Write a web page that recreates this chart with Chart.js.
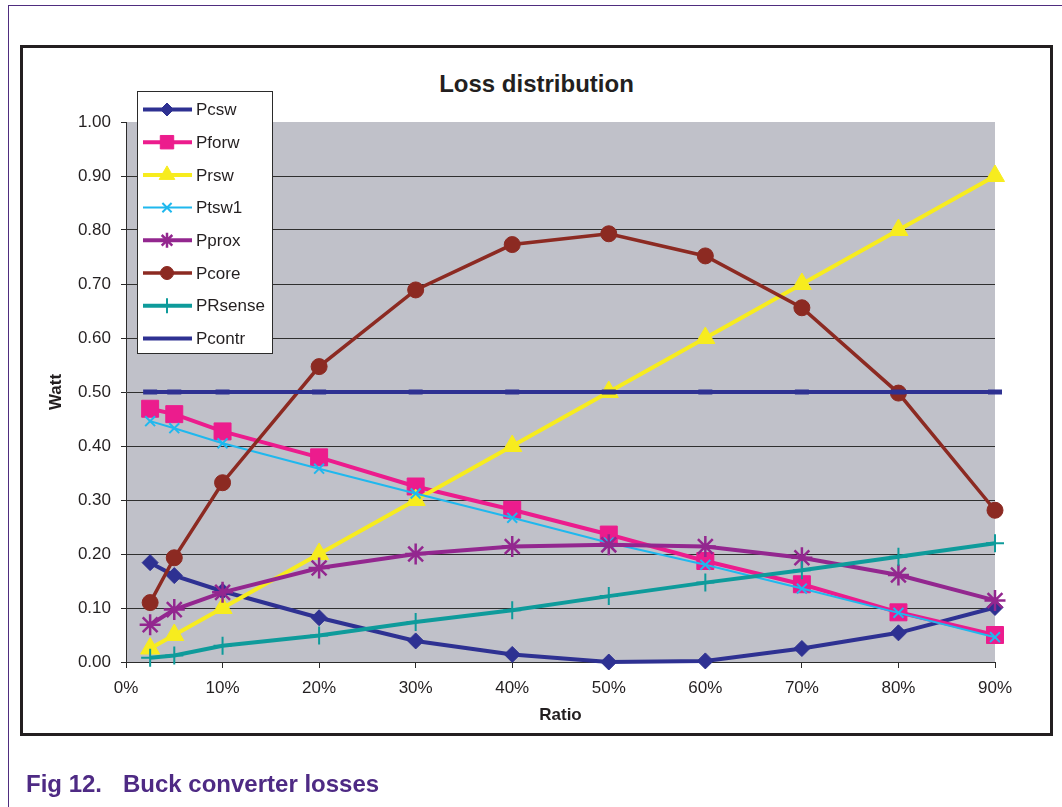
<!DOCTYPE html>
<html>
<head>
<meta charset="utf-8">
<title>Loss distribution</title>
<script src="https://cdn.jsdelivr.net/npm/chart.js@4/dist/chart.umd.min.js"></script>
<style>
  html, body { margin: 0; padding: 0; background: #fff; width: 1062px; height: 807px; overflow: hidden; }
  body { font-family: "Liberation Sans", Arial, sans-serif; }
  #page { position: relative; width: 1062px; height: 807px; }
  .rule-top { position: absolute; left: 8px; top: 5px; width: 1054px; height: 0; border-top: 1px solid #4F2D7F; }
  .rule-left { position: absolute; left: 8px; top: 5px; width: 0; height: 802px; border-left: 1px solid #4F2D7F; }
  .frame { position: absolute; left: 20px; top: 45px; width: 1027px; height: 685px; border: 3px solid #231F20; background: #fff; }
  .title { position: absolute; left: 20px; width: 1033px; top: 70px; line-height: 28px; text-align: center;
           font-weight: bold; font-size: 24px; color: #231F20; }
  #chart { position: absolute; left: 0; top: 0; }
  .caption { position: absolute; top: 771px; line-height: 25px; font-weight: bold; font-size: 24px; color: #4E2A84; white-space: nowrap; }
</style>
</head>
<body>
<div id="page">
  <div class="rule-top"></div>
  <div class="rule-left"></div>
  <div class="frame"></div>
  <div class="title">Loss distribution</div>
  <canvas id="chart" width="1062" height="807"></canvas>
  <div class="caption" style="left:26px">Fig 12.</div>
  <div class="caption" style="left:123px">Buck converter losses</div>
</div>
<script>
// Duty ratio (%) at which each loss was evaluated
const ratio = [2.5, 5, 10, 20, 30, 40, 50, 60, 70, 80, 90];

// Loss components in watts
const pcsw    = [0.184, 0.160, 0.131, 0.082, 0.039, 0.014, 0.000, 0.002, 0.025, 0.054, 0.101];
const pforw   = [0.469, 0.459, 0.427, 0.379, 0.325, 0.282, 0.236, 0.187, 0.144, 0.092, 0.050];
const prsw    = [0.025, 0.050, 0.100, 0.200, 0.300, 0.400, 0.500, 0.600, 0.700, 0.800, 0.900];
const ptsw1   = [0.446, 0.433, 0.405, 0.358, 0.312, 0.267, 0.221, 0.180, 0.136, 0.091, 0.046];
const pprox   = [0.069, 0.097, 0.129, 0.174, 0.200, 0.214, 0.217, 0.214, 0.193, 0.161, 0.114];
const pcore   = [0.110, 0.193, 0.332, 0.547, 0.689, 0.773, 0.793, 0.752, 0.656, 0.498, 0.281];
const prsense = [0.008, 0.012, 0.030, 0.049, 0.074, 0.096, 0.122, 0.147, 0.170, 0.195, 0.220];
const pcontr  = [0.500, 0.500, 0.500, 0.500, 0.500, 0.500, 0.500, 0.500, 0.500, 0.500, 0.500];

// Axis ticks
const xTicks = [0, 10, 20, 30, 40, 50, 60, 70, 80, 90];
const yTicks = [0.0, 0.1, 0.2, 0.3, 0.4, 0.5, 0.6, 0.7, 0.8, 0.9, 1.0];

const FONT = '"Liberation Sans", Arial, sans-serif';

const seriesDefs = [
  { label: 'Pcsw',    data: pcsw,    color: '#2E3192', width: 4, style: 'rectRot',  r: 8,  bw: 1,   lr: 6.5 },
  { label: 'Pforw',   data: pforw,   color: '#EC1C8D', width: 4, style: 'rect',     r: 12, bw: 1,   lr: 9.5 },
  { label: 'Prsw',    data: prsw,    color: '#F7EC1E', width: 4, style: 'triangle', r: 11, bw: 1,   lr: 9 },
  { label: 'Ptsw1',   data: ptsw1,   color: '#1FB8EE', width: 2, style: 'crossRot', r: 7,  bw: 2,   lr: 6.5 },
  { label: 'Pprox',   data: pprox,   color: '#93278F', width: 4, style: 'star',     r: 10.5, bw: 2.5, lr: 7.5 },
  { label: 'Pcore',   data: pcore,   color: '#8C2A22', width: 3.5, style: 'circle', r: 8,  bw: 1,   lr: 6.5 },
  { label: 'PRsense', data: prsense, color: '#0E9B9B', width: 4, style: 'cross',    r: 9,  bw: 2,   lr: 7.5 },
  { label: 'Pcontr',  data: pcontr,  color: '#2E3192', width: 4, style: 'line',     r: 7,  bw: 5,   lr: 0 }
];

const datasets = seriesDefs.map((s, i) => ({
  label: s.label,
  data: ratio.map((x, k) => ({ x: x, y: s.data[k] })),
  borderColor: s.color,
  backgroundColor: s.color,
  borderWidth: s.width,
  pointStyle: s.style,
  pointRadius: s.r,
  pointHoverRadius: s.r,
  pointBorderWidth: s.bw,
  pointBorderColor: s.color,
  pointBackgroundColor: s.color,
  tension: 0,
  clip: false,
  order: seriesDefs.length - 1 - i,
  legendRadius: s.lr
}));

// Grey plot background
const plotBackground = {
  id: 'plotBackground',
  beforeDraw(chart) {
    const a = chart.chartArea, ctx = chart.ctx;
    ctx.save();
    ctx.fillStyle = '#C0C1C9';
    ctx.fillRect(a.left, a.top, a.right - a.left, a.bottom - a.top);
    ctx.restore();
  }
};

// Boxed legend inside the upper-left of the plot
const boxedLegend = {
  id: 'boxedLegend',
  afterDraw(chart) {
    const ctx = chart.ctx;
    const box = { x: 137.5, y: 91.5, w: 135, h: 262 };
    ctx.save();
    ctx.fillStyle = '#ffffff';
    ctx.strokeStyle = '#2b2b2b';
    ctx.lineWidth = 1;
    ctx.fillRect(box.x, box.y, box.w, box.h);
    ctx.strokeRect(box.x, box.y, box.w, box.h);
    chart.data.datasets.forEach((ds, i) => {
      const y = 109.5 + i * 32.7;
      ctx.strokeStyle = ds.borderColor;
      ctx.lineWidth = ds.borderWidth;
      ctx.beginPath();
      ctx.moveTo(143, y);
      ctx.lineTo(192, y);
      ctx.stroke();
      if (ds.legendRadius > 0) {
        ctx.fillStyle = ds.pointBackgroundColor;
        ctx.strokeStyle = ds.pointBorderColor;
        ctx.lineWidth = ds.pointBorderWidth;
        Chart.helpers.drawPoint(ctx, { pointStyle: ds.pointStyle, radius: ds.legendRadius, borderWidth: ds.pointBorderWidth, rotation: 0 }, 167, y);
      }
      ctx.fillStyle = '#231F20';
      ctx.font = '17px ' + FONT;
      ctx.textAlign = 'left';
      ctx.textBaseline = 'middle';
      ctx.fillText(ds.label, 196, y + 1);
    });
    ctx.restore();
  }
};

new Chart(document.getElementById('chart'), {
  type: 'line',
  data: { datasets: datasets },
  plugins: [plotBackground, boxedLegend],
  options: {
    responsive: false,
    animation: false,
    events: [],
    layout: { padding: { left: 42, right: 67, top: 122, bottom: 77 } },
    plugins: {
      legend: { display: false },
      title: { display: false },
      tooltip: { enabled: false }
    },
    scales: {
      x: {
        type: 'linear',
        min: 0,
        max: 90,
        afterBuildTicks: s => { s.ticks = xTicks.map(v => ({ value: v })); },
        afterFit: s => { s.height = 68; },
        ticks: {
          callback: v => v + '%',
          font: { family: FONT, size: 17 },
          color: '#231F20',
          padding: 10,
          maxRotation: 0
        },
        grid: { drawOnChartArea: false, drawTicks: true, tickLength: 6, color: '#2b2b2b', lineWidth: 1 },
        border: { display: true, color: '#2b2b2b', width: 1 },
        title: { display: true, text: 'Ratio', font: { family: FONT, size: 17, weight: 'bold' }, color: '#231F20', padding: { top: 4, bottom: 4 } }
      },
      y: {
        type: 'linear',
        min: 0,
        max: 1,
        afterBuildTicks: s => { s.ticks = yTicks.map(v => ({ value: v })); },
        afterFit: s => { s.width = 84; },
        ticks: {
          callback: v => v.toFixed(2),
          font: { family: FONT, size: 17 },
          color: '#231F20',
          padding: 10
        },
        grid: {
          color: c => (c.tick && c.tick.value >= 1) ? 'rgba(0,0,0,0)' : '#2f2f2f',
          tickColor: '#2b2b2b',
          lineWidth: 1,
          drawTicks: true,
          tickLength: 5
        },
        border: { display: true, color: '#2b2b2b', width: 1 },
        title: { display: true, text: 'Watt', font: { family: FONT, size: 17, weight: 'bold' }, color: '#231F20', padding: { top: 4, bottom: 4 } }
      }
    }
  }
});
</script>
</body>
</html>
